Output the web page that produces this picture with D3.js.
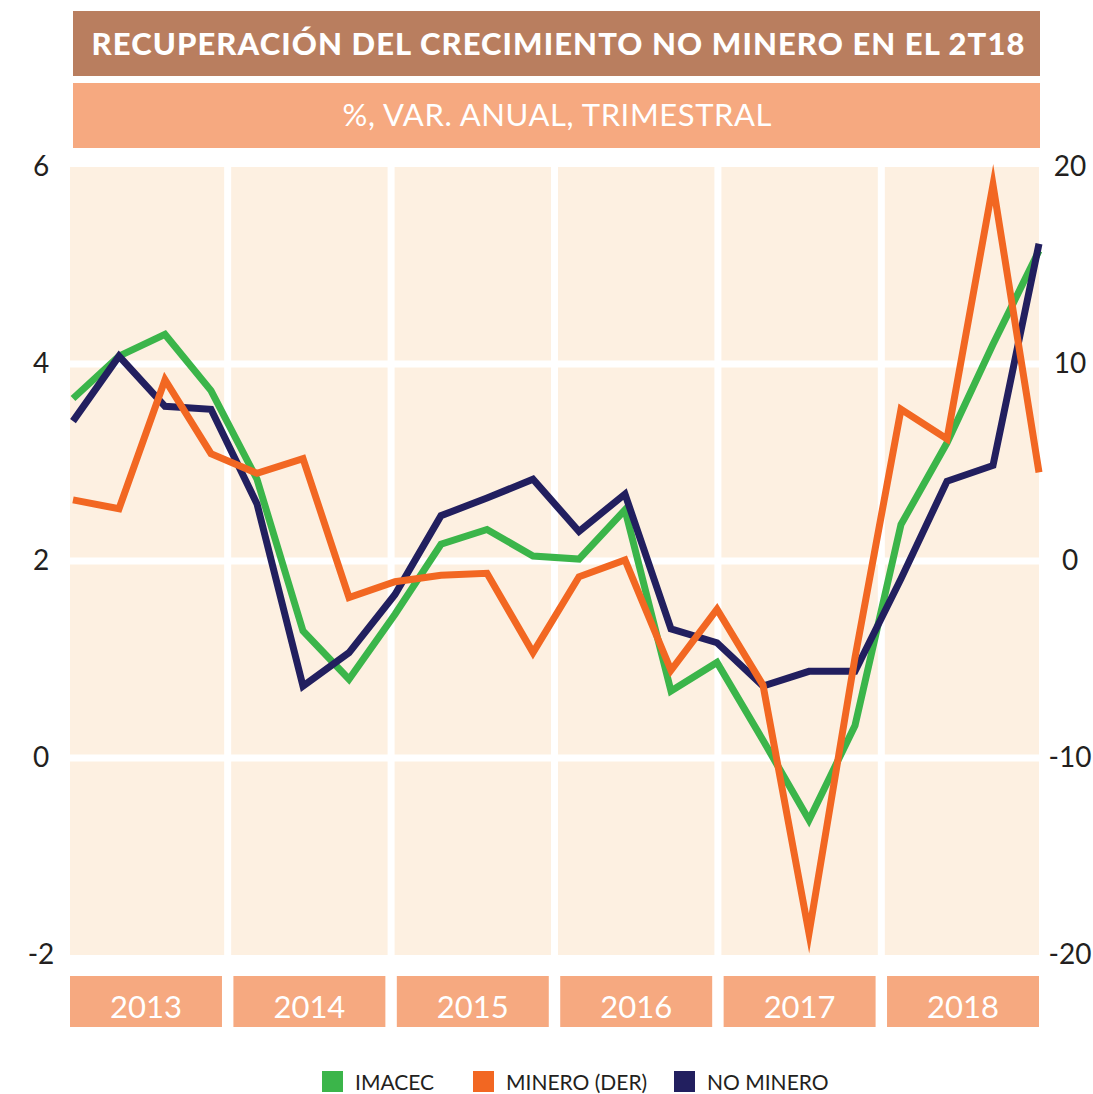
<!DOCTYPE html>
<html>
<head>
<meta charset="utf-8">
<script src="https://cdn.jsdelivr.net/npm/d3@7"></script>
<style>
  body { margin: 0; background: #fff; }
  text { font-family: Lato, "Open Sans", sans-serif; }
</style>
</head>
<body>
<div id="chart"></div>
<script>
// quarterly data, 1T13 .. 2T18
const quarters = ["1T13","2T13","3T13","4T13","1T14","2T14","3T14","4T14",
  "1T15","2T15","3T15","4T15","1T16","2T16","3T16","4T16",
  "1T17","2T17","3T17","4T17","1T18","2T18"];
const years = ["2013", "2014", "2015", "2016", "2017", "2018"];
const imacec = [3.65, 4.08, 4.3, 3.73, 2.83, 1.29, 0.8, 1.46, 2.17, 2.32, 2.05, 2.02,
  2.52, 0.68, 0.97, 0.18, -0.63, 0.33, 2.37, 3.2, 4.2, 5.15];
const minero = [3.1, 2.65, 9.2, 5.45, 4.45, 5.2, -1.85, -1.05, -0.72, -0.62, -4.65, -0.8,
  0.05, -5.55, -2.45, -6.3, -18.9, -4.9, 7.7, 6.2, 19.1, 4.5];
const noMinero = [3.42, 4.08, 3.57, 3.54, 2.58, 0.73, 1.07, 1.66, 2.46, 2.64, 2.83, 2.3,
  2.68, 1.31, 1.17, 0.73, 0.88, 0.88, 1.82, 2.81, 2.97, 5.22];
const leftTicks = [-2, 0, 2, 4, 6];
const rightTicks = [-20, -10, 0, 10, 20];

const W = 1093, H = 1094;
const plot = { left: 70, right: 1039, top: 167, bottom: 955 };

const svg = d3.select("#chart").append("svg")
  .attr("width", W)
  .attr("height", H);

// header bars
svg.append("rect").attr("x", 73).attr("y", 11).attr("width", 967).attr("height", 65)
  .attr("fill", "#b97e5f");
svg.append("text").attr("x", 558).attr("y", 44).attr("dy", "0.36em")
  .attr("text-anchor", "middle").attr("fill", "#fff")
  .attr("font-size", 31).attr("font-weight", 900)
  .attr("textLength", 933).attr("lengthAdjust", "spacing")
  .text("RECUPERACIÓN DEL CRECIMIENTO NO MINERO EN EL 2T18");

svg.append("rect").attr("x", 73).attr("y", 83).attr("width", 967).attr("height", 65)
  .attr("fill", "#f6a980");
svg.append("text").attr("x", 557).attr("y", 115).attr("dy", "0.36em")
  .attr("text-anchor", "middle").attr("fill", "#fff")
  .attr("font-size", 31).attr("font-weight", 400)
  .attr("textLength", 429).attr("lengthAdjust", "spacing")
  .text("%, VAR. ANUAL, TRIMESTRAL");

// scales
const yL = d3.scaleLinear().domain([-2, 6]).range([plot.bottom, plot.top]);
const yR = d3.scaleLinear().domain([-20, 20]).range([plot.bottom, plot.top]);
const xYear = d3.scaleBand().domain(years).range([plot.left, plot.right]).paddingInner(0.07);
const x = d3.scalePoint().domain(quarters).range([73, plot.right]);

// plot background
svg.append("rect")
  .attr("x", plot.left).attr("y", plot.top)
  .attr("width", plot.right - plot.left).attr("height", plot.bottom - plot.top)
  .attr("fill", "#fdf0e1");

// white grid
const gap = xYear.step() * xYear.paddingInner();
svg.append("g").selectAll("line")
  .data(years.slice(1))
  .join("line")
  .attr("x1", d => xYear(d) - gap / 2).attr("x2", d => xYear(d) - gap / 2)
  .attr("y1", plot.top).attr("y2", plot.bottom)
  .attr("stroke", "#fff").attr("stroke-width", 7);

svg.append("g").selectAll("line")
  .data([0, 2, 4])
  .join("line")
  .attr("x1", plot.left).attr("x2", plot.right)
  .attr("y1", d => yL(d)).attr("y2", d => yL(d))
  .attr("stroke", "#fff").attr("stroke-width", 7);

// axes
const axL = svg.append("g")
  .attr("transform", `translate(${plot.left},0)`)
  .call(d3.axisLeft(yL).tickValues(leftTicks).tickSize(0).tickPadding(29)
    .tickFormat(d => String(d)));
const axR = svg.append("g")
  .attr("transform", `translate(${plot.right},0)`)
  .call(d3.axisRight(yR).tickValues(rightTicks).tickSize(0).tickPadding(31)
    .tickFormat(d => String(d)));
[axL, axR].forEach(ax => {
  ax.select(".domain").remove();
  ax.selectAll("text")
    .attr("text-anchor", "middle")
    .attr("font-size", 28)
    .attr("font-family", "Lato, sans-serif")
    .attr("fill", "#231f20");
});

// year bands
const yb = svg.append("g").selectAll("g")
  .data(years)
  .join("g");
yb.append("rect")
  .attr("x", d => xYear(d)).attr("y", 976)
  .attr("width", xYear.bandwidth()).attr("height", 51)
  .attr("fill", "#f6a980");
yb.append("text")
  .attr("x", d => xYear(d) + xYear.bandwidth() / 2).attr("y", 1007)
  .attr("dy", "0.36em").attr("text-anchor", "middle")
  .attr("fill", "#fff").attr("font-size", 31)
  .text(d => d);

// lines
const series = [
  { name: "IMACEC", values: imacec, y: yL, color: "#3bb54a" },
  { name: "NO MINERO", values: noMinero, y: yL, color: "#221f5f" },
  { name: "MINERO (DER)", values: minero, y: yR, color: "#f26722" }
];
series.forEach(s => {
  const line = d3.line()
    .x((d, i) => x(quarters[i]))
    .y(d => s.y(d));
  svg.append("path")
    .datum(s.values)
    .attr("d", line)
    .attr("fill", "none")
    .attr("stroke", s.color)
    .attr("stroke-width", 7)
    .attr("stroke-linejoin", "miter")
    .attr("stroke-miterlimit", 10);
});

// legend
const legend = [
  { name: "IMACEC", color: "#3bb54a", x: 322 },
  { name: "MINERO (DER)", color: "#f26722", x: 473 },
  { name: "NO MINERO", color: "#221f5f", x: 674 }
];
const lg = svg.append("g").selectAll("g")
  .data(legend)
  .join("g")
  .attr("transform", d => `translate(${d.x},1071)`);
lg.append("rect").attr("width", 21).attr("height", 21).attr("fill", d => d.color);
lg.append("text")
  .attr("x", 33).attr("y", 11).attr("dy", "0.36em")
  .attr("font-size", 21).attr("fill", "#231f20")
  .text(d => d.name);
</script>
</body>
</html>
